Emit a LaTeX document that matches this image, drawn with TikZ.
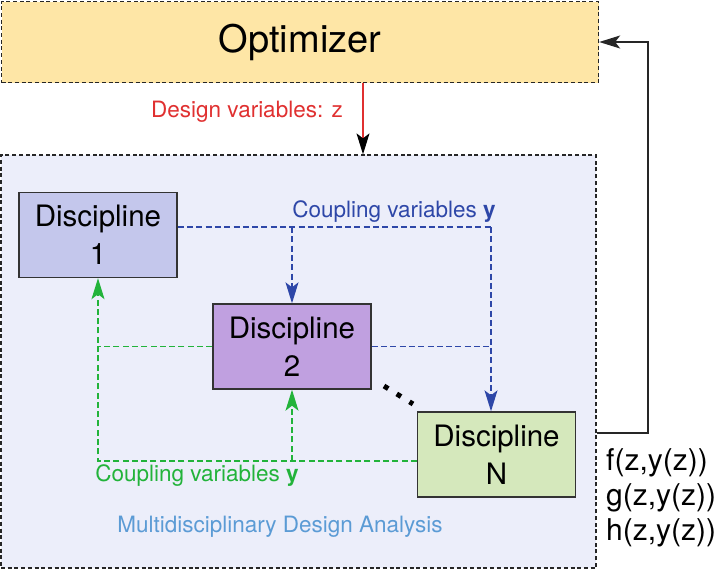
\documentclass[tikz,border=0pt]{standalone}
\usepackage{fontspec}
\setmainfont{TeX Gyre Heros}
\usetikzlibrary{arrows.meta}
\definecolor{optfill}{HTML}{FEE6A6}
\definecolor{mdafill}{HTML}{ECEEFA}
\definecolor{donefill}{HTML}{C4C7EC}
\definecolor{dtwofill}{HTML}{C0A0E0}
\definecolor{dnfill}{HTML}{D5E8BC}
\definecolor{cblue}{HTML}{2E47A8}
\definecolor{cgreen}{HTML}{22B33A}
\definecolor{cred}{HTML}{E03030}
\definecolor{clabel}{HTML}{5B9BD5}
\begin{document}
\begin{tikzpicture}[x=1pt,y=-1pt,
  bigbox/.style={draw=black!85, dash pattern=on 4pt off 2.7pt, line width=1.3pt, inner sep=0pt},
  discbox/.style={draw=black!80, line width=1.4pt, inner sep=0pt,
     minimum width=158pt, minimum height=85pt, align=center,
     font=\fontsize{29.5}{38}\selectfont},
  blueline/.style={draw=cblue, dash pattern=on 6pt off 3.3pt, line width=1.2pt},
  greenline/.style={draw=cgreen, dash pattern=on 6pt off 3.3pt, line width=1.2pt},
  tip/.style={-{Stealth[length=21pt,width=13pt,inset=5pt]}},
  lbl/.style={font=\fontsize{22.5}{26}\selectfont, inner sep=0pt}
]
\useasboundingbox (0,0) rectangle (721,571);
% big boxes
\node[bigbox, fill=optfill, minimum width=597pt, minimum height=81pt,
      font=\fontsize{38}{44}\selectfont] (opt) at (300,42) {Optimizer};
\node[bigbox, fill=mdafill, minimum width=595pt, minimum height=413pt] (mda) at (298.5,361.5) {};
% disciplines
\node[discbox, fill=donefill] (d1) at (98,235) {Discipline\\1};
\node[discbox, fill=dtwofill] (d2) at (292,346.5) {Discipline\\2};
\node[discbox, fill=dnfill] (dn) at (496.5,454.5) {Discipline\\N};
% design variables
\coordinate (zx) at (363,0);
\draw[cred, line width=1.2pt, -{Stealth[length=21pt,width=13pt,inset=5pt,color=black]}]
  (opt.south -| zx) -- (mda.north -| zx);
\node[lbl, text=cred] (dvl) at (247,112) {Design variables: z};
% blue coupling
\coordinate (b1) at (292,227);
\coordinate (b2) at (491,227);
\draw[blueline] (d1.east |- b1) -- (b2);
\draw[blueline, tip] (b2) -- (b2 |- dn.north);
\draw[blueline, tip] (b1) -- (d2.north);
\draw[blueline] (d2.east) -- (d2.east -| b2);
\node[lbl, text=cblue] (bl) at (394,212) {Coupling variables \textbf{y}};
% green coupling
\coordinate (g1) at (98,461);
\draw[greenline] (d2.west) -- (d2.west -| g1);
\draw[greenline, tip] (dn.west |- g1) -- (g1) -- (d1.south);
\draw[greenline, tip] (d2.south |- g1) -- (d2.south);
\node[lbl, text=cgreen] (gl) at (197,476) {Coupling variables \textbf{y}};
% dots
\coordinate (dt1) at (384,386);
\coordinate (dt2) at (413,404);
\draw[line width=5pt, dash pattern=on 5pt off 10pt] (dt1) -- (dt2);
% feedback
\coordinate (fb) at (648,433);
\draw[black!85, line width=1.3pt, tip] (mda.east |- fb) -- (fb) -- (fb |- opt.east) -- (opt.east);
\node[align=left, inner sep=0pt, font=\fontsize{30}{35}\selectfont, anchor=west] (fgh) at (606,498)
  {f(z,y(z))\\g(z,y(z))\\h(z,y(z))};
\node[lbl, text=clabel] (mdal) at (280,527) {Multidisciplinary Design Analysis};
\end{tikzpicture}
\end{document}
